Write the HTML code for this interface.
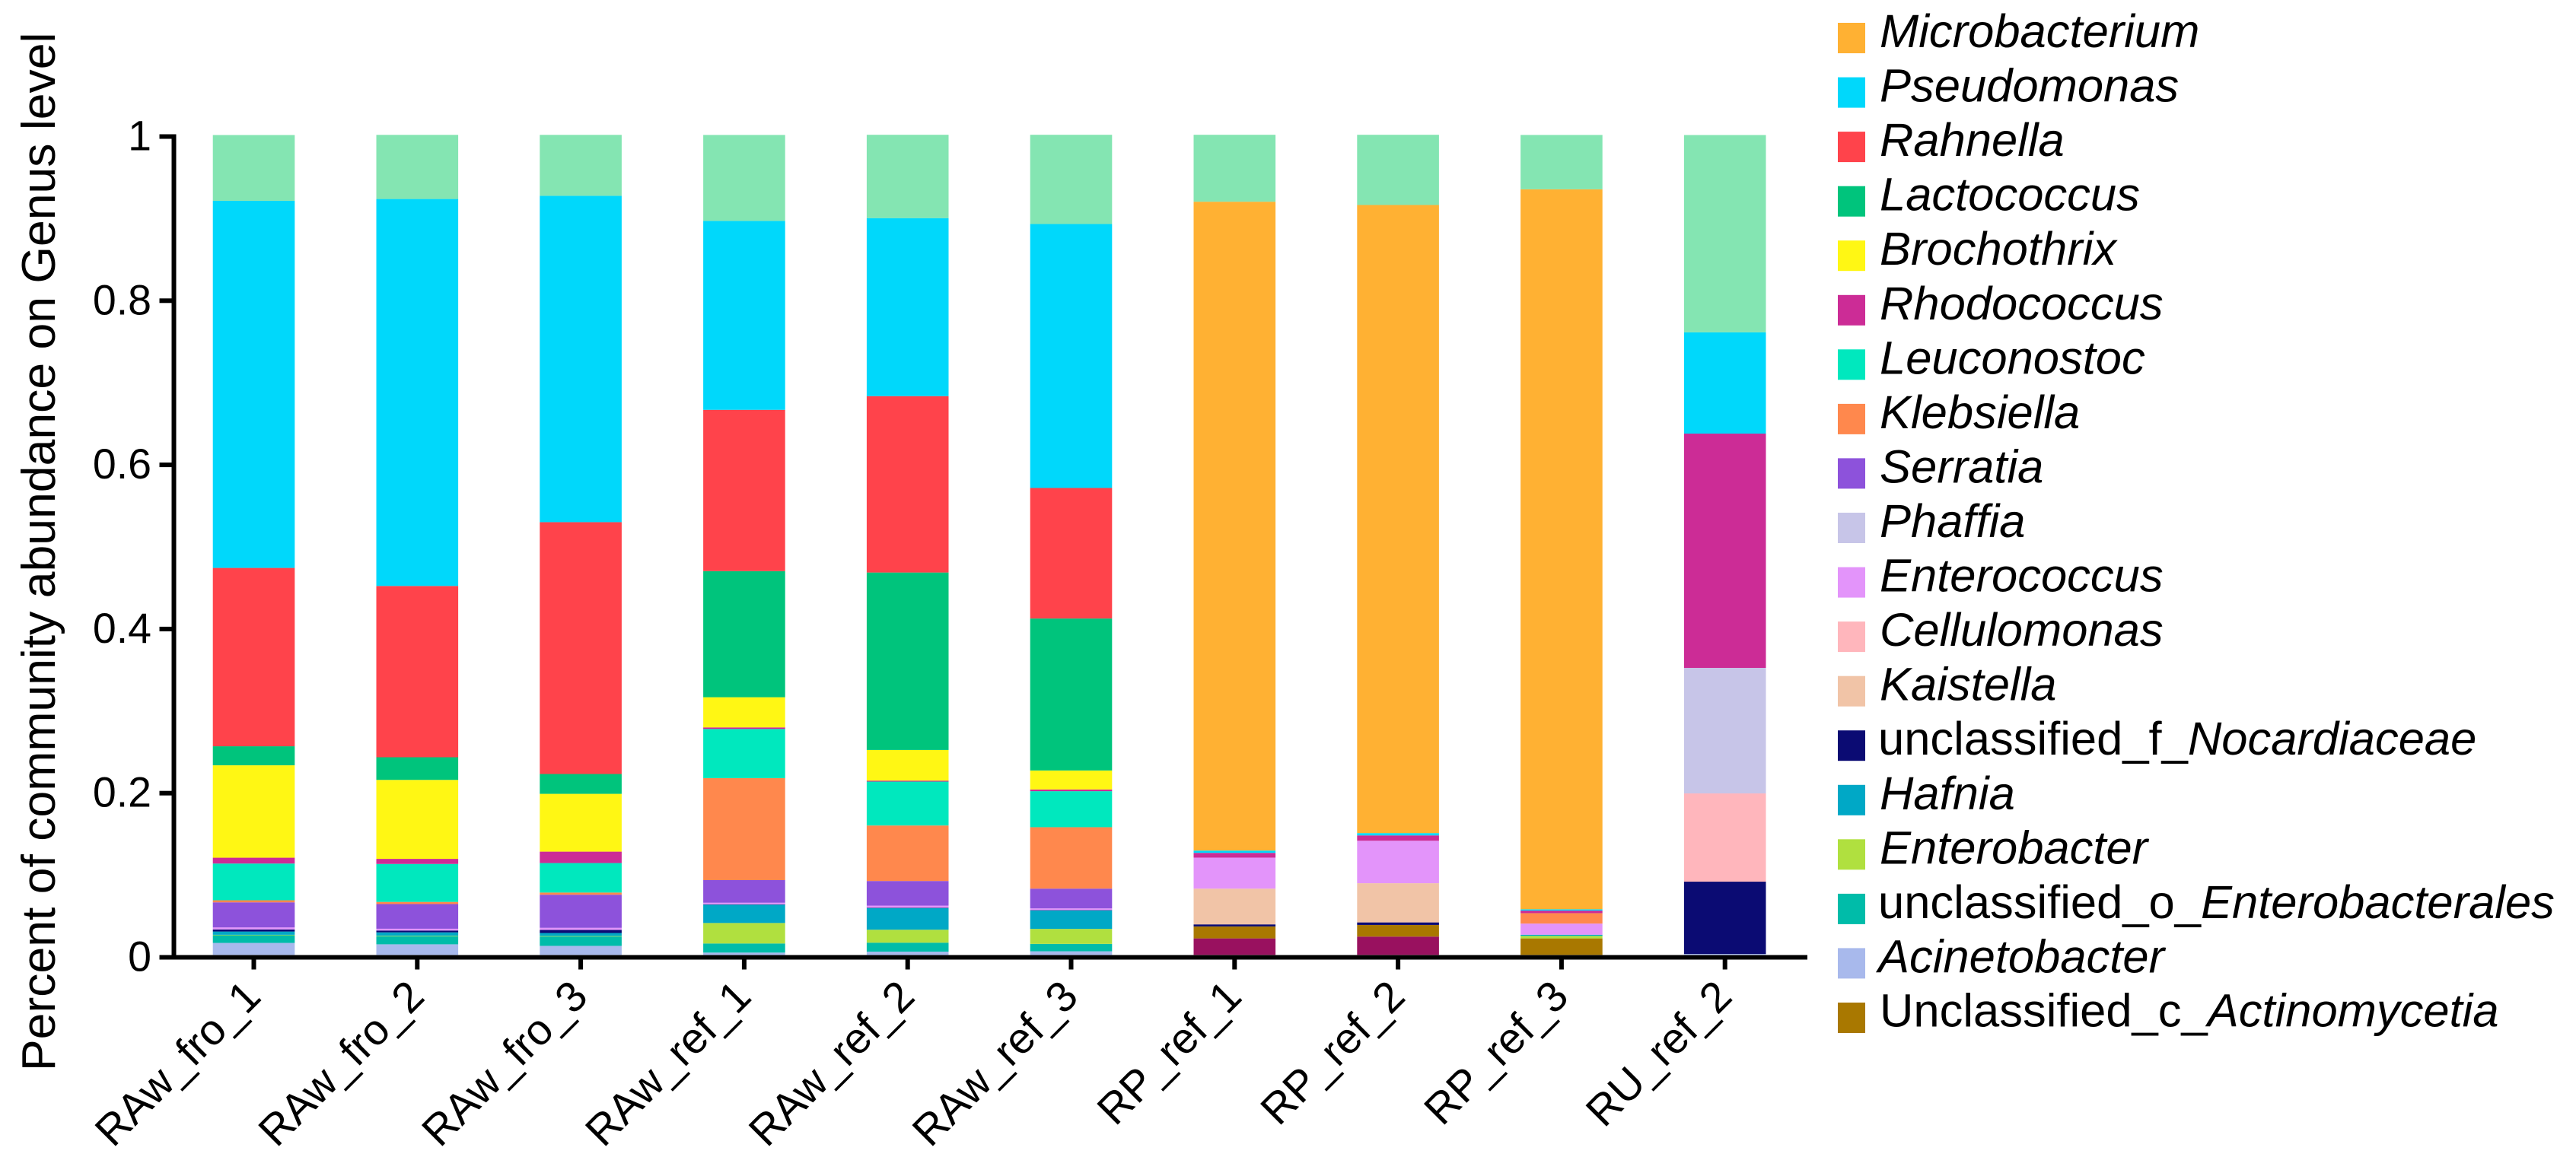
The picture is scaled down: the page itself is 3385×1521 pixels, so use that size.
<!DOCTYPE html>
<html lang="en">
<head>
<meta charset="utf-8">
<title>Percent of community abundance on Genus level</title>
<style>
html,body{margin:0;padding:0;background:#fff;width:3385px;height:1521px;overflow:hidden}
svg{display:block;font-family:"Liberation Sans",Arial,sans-serif}
.lg{font-size:61.5px;fill:#000}
.lg tspan.i{font-style:italic}
</style>
</head>
<body>
<svg id="chart" width="3385" height="1521" viewBox="0 0 3385 1521" xmlns="http://www.w3.org/2000/svg">
  <rect width="3385" height="1521" fill="#fff"/>
  <g id="bars"></g>
  <g id="axes"></g>
  <text transform="translate(72,1408) rotate(-90)" font-size="62.5" fill="#000">Percent of community abundance on Genus level</text>

  <g>
    <rect x="2415" y="30" width="36" height="40" fill="#FFB133"/>
    <text class="lg" x="2470" y="62"><tspan class="i">Microbacterium</tspan></text>
    <rect x="2415" y="101.6" width="36" height="40" fill="#00D8FB"/>
    <text class="lg" x="2470" y="133.6"><tspan class="i">Pseudomonas</tspan></text>
    <rect x="2415" y="173.1" width="36" height="40" fill="#FF434B"/>
    <text class="lg" x="2470" y="205.1"><tspan class="i">Rahnella</tspan></text>
    <rect x="2415" y="244.7" width="36" height="40" fill="#00C47C"/>
    <text class="lg" x="2470" y="276.7"><tspan class="i">Lactococcus</tspan></text>
    <rect x="2415" y="316.2" width="36" height="40" fill="#FFF714"/>
    <text class="lg" x="2470" y="348.2"><tspan class="i">Brochothrix</tspan></text>
    <rect x="2415" y="387.8" width="36" height="40" fill="#CC2C96"/>
    <text class="lg" x="2470" y="419.8"><tspan class="i">Rhodococcus</tspan></text>
    <rect x="2415" y="459.3" width="36" height="40" fill="#00E8BE"/>
    <text class="lg" x="2470" y="491.3"><tspan class="i">Leuconostoc</tspan></text>
    <rect x="2415" y="530.9" width="36" height="40" fill="#FF884D"/>
    <text class="lg" x="2470" y="562.9"><tspan class="i">Klebsiella</tspan></text>
    <rect x="2415" y="602.4" width="36" height="40" fill="#8D52DB"/>
    <text class="lg" x="2470" y="634.4"><tspan class="i">Serratia</tspan></text>
    <rect x="2415" y="674" width="36" height="40" fill="#C7C5E8"/>
    <text class="lg" x="2470" y="706"><tspan class="i">Phaffia</tspan></text>
    <rect x="2415" y="745.6" width="36" height="40" fill="#E394FA"/>
    <text class="lg" x="2470" y="777.6"><tspan class="i">Enterococcus</tspan></text>
    <rect x="2415" y="817.1" width="36" height="40" fill="#FFB6BC"/>
    <text class="lg" x="2470" y="849.1"><tspan class="i">Cellulomonas</tspan></text>
    <rect x="2415" y="888.7" width="36" height="40" fill="#F1C4A7"/>
    <text class="lg" x="2470" y="920.7"><tspan class="i">Kaistella</tspan></text>
    <rect x="2415" y="960.2" width="36" height="40" fill="#0B0B73"/>
    <text class="lg" x="2468" y="992.2">unclassified_f_<tspan class="i">Nocardiaceae</tspan></text>
    <rect x="2415" y="1031.8" width="36" height="40" fill="#00A8C6"/>
    <text class="lg" x="2470" y="1063.8"><tspan class="i">Hafnia</tspan></text>
    <rect x="2415" y="1103.3" width="36" height="40" fill="#B0E03F"/>
    <text class="lg" x="2470" y="1135.3"><tspan class="i">Enterobacter</tspan></text>
    <rect x="2415" y="1174.9" width="36" height="40" fill="#00BCA9"/>
    <text class="lg" x="2468" y="1206.9">unclassified_o_<tspan class="i">Enterobacterales</tspan></text>
    <rect x="2415" y="1246.4" width="36" height="40" fill="#A8B9EC"/>
    <text class="lg" x="2468" y="1278.4"><tspan class="i">Acinetobacter</tspan></text>
    <rect x="2415" y="1318" width="36" height="40" fill="#A97800"/>
    <text class="lg" x="2470" y="1349.5">Unclassified_c_<tspan class="i">Actinomycetia</tspan></text>
  </g>
</svg>
<script>
const categories = ["RAw_fro_1","RAw_fro_2","RAw_fro_3","RAw_ref_1","RAw_ref_2","RAw_ref_3","RP_ref_1","RP_ref_2","RP_ref_3","RU_ref_2"];
const yTickValues = [0,0.2,0.4,0.6,0.8,1];
const yTickLabels = ["0","0.2","0.4","0.6","0.8","1"];

const seriesNames = ["Minor-taxon","Actinomycetia","Acinetobacter","Enterobacterales","Enterobacter","Hafnia","Nocardiaceae","Kaistella","Cellulomonas","Enterococcus","Phaffia","Serratia","Klebsiella","Leuconostoc","Rhodococcus","Brochothrix","Lactococcus","Rahnella","Pseudomonas","Microbacterium","Others"];
const seriesColors = ["#99115F","#A97800","#A8B9EC","#00BCA9","#B0E03F","#00A8C6","#0B0B73","#F1C4A7","#FFB6BC","#E394FA","#C7C5E8","#8D52DB","#FF884D","#00E8BE","#CC2C96","#FFF714","#00C47C","#FF434B","#00D8FB","#FFB133","#84E5B2"];

const minorTaxon       = [0,0,0,0,0,0,.0201,.0223,0,0];
const actinomycetia    = [0,0,0,0,0,0,.0146,.0142,.0201,0];
const acinetobacter    = [.0146,.0129,.0110,.0028,.0040,.0044,0,0,0,.0012];
const enterobacterales = [.0093,.0099,.0114,.0111,.0109,.0090,0,0,0,0];
const enterobacter     = [.0006,.0006,.0006,.0250,.0158,.0183,0,0,.0031,0];
const hafnia           = [.0040,.0041,.0037,.0223,.0263,.0225,0,0,.0014,0];
const nocardiaceae     = [.0025,.0022,.0037,.0005,.0006,.0004,.0025,.0031,0,.0881];
const kaistella        = [0,0,0,0,0,0,.0436,.0478,0,0];
const cellulomonas     = [0,0,0,0,0,0,0,0,0,.1076];
const enterococcus     = [.0025,.0022,.0026,.0019,.0025,.0021,.0378,.0518,.0136,0];
const phaffia          = [0,0,0,0,0,0,0,0,0,.1531];
const serratia         = [.0306,.0301,.0404,.0276,.0300,.0241,0,0,0,0];
const klebsiella       = [.0025,.0026,.0026,.1243,.0677,.0749,0,0,.0127,0];
const leuconostoc      = [.0448,.0463,.0360,.0600,.0535,.0439,0,0,0,0];
const rhodococcus      = [.0071,.0062,.0139,.0019,.0012,.0021,.0058,.0065,.0031,.2857];
const brochothrix      = [.1127,.0963,.0705,.0368,.0374,.0232,0,0,0,0];
const lactococcus      = [.0232,.0276,.0242,.1538,.2164,.1853,0,0,0,0];
const rahnella         = [.2175,.2089,.3071,.1967,.2151,.1592,0,0,0,0];
const pseudomonas      = [.4477,.4719,.3980,.2304,.2171,.3219,.0028,.0028,.0016,.1235];
const microbacterium   = [0,0,0,0,0,0,.7913,.7660,.8780,0];
const others           = [.0802,.0782,.0743,.1048,.1016,.1088,.0816,.0856,.0663,.2406];

const seriesValues = [minorTaxon,actinomycetia,acinetobacter,enterobacterales,enterobacter,hafnia,nocardiaceae,kaistella,cellulomonas,enterococcus,phaffia,serratia,klebsiella,leuconostoc,rhodococcus,brochothrix,lactococcus,rahnella,pseudomonas,microbacterium,others];

const NS = "http://www.w3.org/2000/svg";
function xCenter(i){ return 333.5 + i * 214.8; }
function yBar(v){ return 1255.3 - v * 1078; }
function yTick(v){ return 1258.5 - v * 1079; }
const BAR_WIDTH = 107.6;

function make(tag, attrs){
  const el = document.createElementNS(NS, tag);
  for (const k in attrs) el.setAttribute(k, attrs[k]);
  return el;
}

const barsG = document.getElementById("bars");
categories.forEach(function(cat, i){
  let cum = 0;
  seriesValues.forEach(function(vals, s){
    const v = vals[i];
    if (!v) return;
    const top = yBar(cum + v);
    const bottom = yBar(cum);
    const r = make("rect", {x: xCenter(i) - BAR_WIDTH / 2, y: top, width: BAR_WIDTH, height: bottom - top, fill: seriesColors[s]});
    
    
    barsG.appendChild(r);
    cum += v;
  });
});

const axesG = document.getElementById("axes");
const yLine = make("rect", {x: 225.5, y: yTick(1) - 3, width: 6, height: yTick(0) - yTick(1) + 6, fill: "#000"});


axesG.appendChild(yLine);

const xLine = make("rect", {x: 209.5, y: yTick(0) - 3, width: 2165.5, height: 6, fill: "#000"});


axesG.appendChild(xLine);

yTickValues.forEach(function(v, i){
  const t = make("rect", {x: 209.5, y: yTick(v) - 3, width: 20, height: 6, fill: "#000"});
  
  
  axesG.appendChild(t);
  const l = make("text", {x: 199, y: yTick(v) + 18, "text-anchor": "end", "font-size": 55.5, fill: "#000"});
  
  
  l.textContent = yTickLabels[i];
  axesG.appendChild(l);
});

categories.forEach(function(cat, i){
  const t = make("rect", {x: xCenter(i) - 3, y: yTick(0), width: 6, height: 16, fill: "#000"});
  
  
  axesG.appendChild(t);
  const ax = xCenter(i) + 12;
  const ay = 1313;
  const l = make("text", {x: ax, y: ay, "text-anchor": "end", "font-size": 56.5, fill: "#000", transform: "rotate(-45 " + ax + " " + ay + ")"});
  
  
  l.textContent = cat;
  axesG.appendChild(l);
});
</script>
</body>
</html>
